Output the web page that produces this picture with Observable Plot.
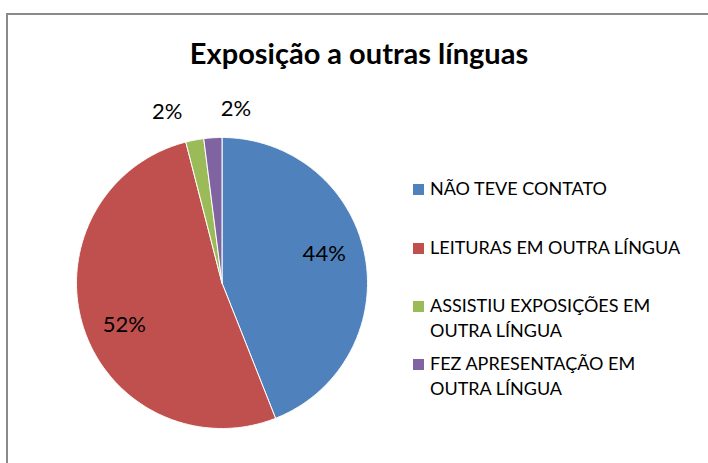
<!DOCTYPE html>
<html>
<head>
<meta charset="utf-8">
<script src="https://cdn.jsdelivr.net/npm/d3@7"></script>
<script src="https://cdn.jsdelivr.net/npm/@observablehq/plot@0.6"></script>
<style>
  html, body { margin: 0; padding: 0; background: #fff; overflow: hidden; }
  #wrap { position: relative; width: 708px; height: 463px; overflow: hidden; font-family: Lato, "Open Sans", sans-serif; }
  #frame { position: absolute; left: 6px; top: 13px; width: 760px; height: 520px; border: 2px solid #8a8a8a; box-sizing: border-box; }
  #title { position: absolute; left: 0; width: 718px; top: 35px; text-align: center; font-weight: bold; font-size: 29px; color: #000; line-height: 36px; }
  #chart { position: absolute; left: 0; top: 0; }
  .leg { position: absolute; left: 413px; font-size: 18px; color: #000; line-height: 25px; }
  .leg .sw { position: absolute; left: 0; top: 8px; width: 11px; height: 11px; }
  .leg .tx { position: absolute; left: 17px; white-space: nowrap; }
</style>
</head>
<body>
<div id="wrap">
  <div id="frame"></div>
  <div id="chart"></div>
  <div id="title">Exposição a outras línguas</div>
  <div id="legend"></div>
</div>
<script>
// Data
const categories = ["NÃO TEVE CONTATO", "LEITURAS EM OUTRA LÍNGUA", "ASSISTIU EXPOSIÇÕES EM OUTRA LÍNGUA", "FEZ APRESENTAÇÃO EM OUTRA LÍNGUA"];
const legendLines = [["NÃO TEVE CONTATO"], ["LEITURAS EM OUTRA LÍNGUA"], ["ASSISTIU EXPOSIÇÕES EM", "OUTRA LÍNGUA"], ["FEZ APRESENTAÇÃO EM", "OUTRA LÍNGUA"]];
const values = [44, 52, 2, 2];
const colors = ["#4F81BD", "#C0504D", "#9BBB59", "#8064A2"];

// Build slice geometry (unit circle, clockwise from 12 o'clock) from the values
const total = d3.sum(values);
const slices = [];
let acc = 0;
values.forEach((v, i) => {
  const a0 = acc / total * 2 * Math.PI;
  acc += v;
  const a1 = acc / total * 2 * Math.PI;
  slices.push({key: categories[i], value: v, a0, a1, mid: (a0 + a1) / 2, pct: Math.round(v / total * 100) + "%"});
});
const points = [];
for (const s of slices) {
  points.push({key: s.key, x: 0, y: 0});
  const n = Math.max(2, Math.ceil((s.a1 - s.a0) / (Math.PI / 360)));
  for (let k = 0; k <= n; k++) {
    const a = s.a0 + (s.a1 - s.a0) * k / n;
    points.push({key: s.key, x: Math.sin(a), y: Math.cos(a)});
  }
  points.push({key: s.key, x: 0, y: 0});
}
const big = slices.filter(s => s.value / total >= 0.1);
const small = slices.filter(s => s.value / total < 0.1);
const inR = 0.73, shift = -5 * Math.PI / 180, outR = 1.2;
const inLabels = big.map(s => ({t: s.pct, x: inR * Math.sin(s.mid + shift), y: inR * Math.cos(s.mid + shift)}));
const outLabels = small.map(s => ({t: s.pct, x: outR * Math.sin(s.mid), y: outR * Math.cos(s.mid)}));

const cx = 221.5, cy = 282.5, R = 145.5;
const chart = Plot.plot({
  width: 708,
  height: 463,
  margin: 0,
  x: {domain: [-1, 1], range: [cx - R, cx + R], axis: null},
  y: {domain: [-1, 1], range: [cy + R, cy - R], axis: null},
  color: {domain: categories, range: colors},
  style: {background: "transparent", overflow: "visible"},
  marks: [
    Plot.line(points, {x: "x", y: "y", z: "key", fill: "key", stroke: "white", strokeWidth: 1, strokeLinejoin: "round"}),
    Plot.text(inLabels, {x: "x", y: "y", text: "t", fontSize: 22, fill: "#000", fontFamily: "Lato, sans-serif"}),
    Plot.text(outLabels.slice(0, 1), {x: "x", y: "y", text: "t", dx: -22, fontSize: 22, fill: "#000", fontFamily: "Lato, sans-serif"}),
    Plot.text(outLabels.slice(1), {x: "x", y: "y", text: "t", dx: 25, fontSize: 22, fill: "#000", fontFamily: "Lato, sans-serif"})
  ]
});
document.getElementById("chart").appendChild(chart);

// Legend
const legTops = [176, 235, 293, 351];
const legend = document.getElementById("legend");
legendLines.forEach((lines, i) => {
  const d = document.createElement("div");
  d.className = "leg";
  d.style.top = legTops[i] + "px";
  const sw = document.createElement("div");
  sw.className = "sw";
  sw.style.background = colors[i];
  d.appendChild(sw);
  const tx = document.createElement("div");
  tx.className = "tx";
  tx.innerHTML = lines.join("<br>");
  d.appendChild(tx);
  legend.appendChild(d);
});
</script>
</body>
</html>
